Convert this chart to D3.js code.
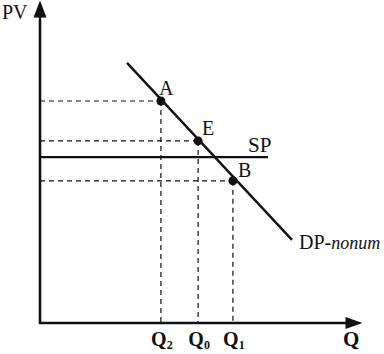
<!DOCTYPE html>
<html>
<head>
<meta charset="utf-8">
<script src="https://cdn.jsdelivr.net/npm/d3@7"></script>
<style>
  body { margin: 0; background: #fff; }
  text { font-family: "Liberation Serif", "DejaVu Serif", serif; fill: #111; }
</style>
</head>
<body>
<div id="chart"></div>
<script>
// Chart data (axis units)
const demandLine = [{ q: 2.9, p: 8.67 }, { q: 8.4, p: 2.77 }];
const spLevel = 5.53;
const spExtent = [0, 7.6];
const points = [
  { name: "A", q: 4.03, p: 7.4, dx: -2, dy: -6 },
  { name: "E", q: 5.27, p: 6.07, dx: 4, dy: -6 },
  { name: "B", q: 6.43, p: 4.74, dx: 5, dy: -4 }
];
const qTicks = [
  { q: 4.03, base: "Q", sub: "2" },
  { q: 5.27, base: "Q", sub: "0" },
  { q: 6.43, base: "Q", sub: "1" }
];
const axisMax = 10.75;

const width = 384;
const height = 354;

const svg = d3.select("#chart").append("svg")
  .attr("width", width)
  .attr("height", height);

// Scales
const x = d3.scaleLinear().domain([0, 10]).range([40, 340]);
const y = d3.scaleLinear().domain([0, 10]).range([323, 23]);

// Dashed guide lines
points.forEach((d) => {
  svg.append("line")
    .attr("x1", x(0)).attr("x2", x(d.q))
    .attr("y1", y(d.p)).attr("y2", y(d.p))
    .attr("stroke", "#111").attr("stroke-width", 1.2)
    .attr("stroke-dasharray", "5,4");
  svg.append("line")
    .attr("x1", x(d.q)).attr("x2", x(d.q))
    .attr("y1", y(d.p)).attr("y2", y(0))
    .attr("stroke", "#111").attr("stroke-width", 1.2)
    .attr("stroke-dasharray", "5,4");
});

// Axes with arrowheads
svg.append("line")
  .attr("x1", x(0)).attr("x2", x(0))
  .attr("y1", y(0) + 1).attr("y2", y(axisMax) + 12)
  .attr("stroke", "#111").attr("stroke-width", 2.6);
svg.append("line")
  .attr("x1", x(0) - 1).attr("x2", x(axisMax) - 12)
  .attr("y1", y(0)).attr("y2", y(0))
  .attr("stroke", "#111").attr("stroke-width", 2.6);

svg.append("path")
  .attr("d", `M${x(0)},${y(axisMax)} L${x(0) - 6.5},${y(axisMax) + 17} L${x(0) + 6.5},${y(axisMax) + 17} Z`)
  .attr("fill", "#111");
svg.append("path")
  .attr("d", `M${x(axisMax)},${y(0)} L${x(axisMax) - 17},${y(0) - 6} L${x(axisMax) - 17},${y(0) + 6} Z`)
  .attr("fill", "#111");

// SP line
svg.append("line")
  .attr("x1", x(spExtent[0])).attr("x2", x(spExtent[1]))
  .attr("y1", y(spLevel)).attr("y2", y(spLevel))
  .attr("stroke", "#111").attr("stroke-width", 2.2);

// Demand line
const line = d3.line().x((d) => x(d.q)).y((d) => y(d.p));
svg.append("path")
  .datum(demandLine)
  .attr("d", line)
  .attr("fill", "none")
  .attr("stroke", "#111")
  .attr("stroke-width", 2.4);

// Points
svg.selectAll(".pt")
  .data(points)
  .enter()
  .append("circle")
  .attr("class", "pt")
  .attr("cx", (d) => x(d.q))
  .attr("cy", (d) => y(d.p))
  .attr("r", 4.5)
  .attr("fill", "#111");

svg.selectAll(".pt-label")
  .data(points)
  .enter()
  .append("text")
  .attr("x", (d) => x(d.q) + d.dx)
  .attr("y", (d) => y(d.p) + d.dy)
  .attr("font-size", 20)
  .text((d) => d.name);

// Line labels
svg.append("text")
  .attr("x", x(spExtent[1]) - 20).attr("y", y(spLevel) - 5)
  .attr("font-size", 21)
  .text("SP");

const dpLabel = svg.append("text")
  .attr("x", x(demandLine[1].q) + 7).attr("y", y(demandLine[1].p) + 9)
  .attr("font-size", 20);
dpLabel.append("tspan").text("DP-");
dpLabel.append("tspan").attr("font-style", "italic").attr("font-size", 18).text("nonum");

// Axis titles
svg.append("text")
  .attr("x", 2).attr("y", 19)
  .attr("font-size", 20)
  .text("PV");

svg.append("text")
  .attr("x", 343).attr("y", 346)
  .attr("font-size", 21)
  .attr("font-weight", "bold")
  .text("Q");

// Tick labels
qTicks.forEach((d) => {
  const t = svg.append("text")
    .attr("x", x(d.q) + 1)
    .attr("y", 346)
    .attr("text-anchor", "middle")
    .attr("font-size", 20)
    .attr("font-weight", "bold");
  t.append("tspan").text(d.base);
  t.append("tspan").attr("font-size", 12).attr("dy", 3).text(d.sub);
});
</script>
</body>
</html>
